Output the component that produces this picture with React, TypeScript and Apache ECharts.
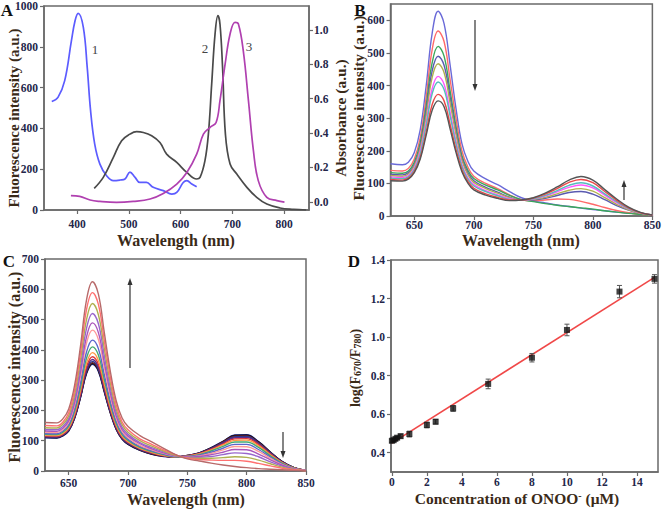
import React, { useEffect, useRef } from "react";
import * as echarts from "echarts";

// ---------- Panel A ----------
const a1Wl = [351, 363, 376, 389, 396, 402, 412, 419.5, 426, 434, 444, 457, 470, 483, 492.5, 502, 512, 521, 534, 547, 566.5, 583, 592.5, 605, 612, 621.5, 631];
const a1Val = [532, 552, 634, 830, 928, 964, 895, 699, 487, 323, 225, 168, 144, 147, 152, 186, 160, 135, 135, 111, 95, 78, 86, 135, 144, 127, 114];
const a2Wl = [433, 450.5, 470, 486, 502, 515, 528, 544, 560, 573, 592.5, 612, 631, 637.5, 647, 653.6, 660, 666.5, 672, 676, 681, 686.5, 695.5, 708.5, 728, 747, 766.5, 792, 818, 842.5];
const a2Val = [106, 160, 258, 340, 372, 384, 380, 364, 331, 274, 233, 184, 152, 160, 242, 372, 618, 863, 953, 912, 699, 372, 225, 176, 111, 62, 29, 10, 3, 0];
const a3Wl = [388, 405, 425, 444, 476, 508.5, 541, 566.5, 592.5, 612, 631, 644, 657, 668.5, 676, 686, 695.5, 705, 711.6, 721, 731, 740.6, 750, 766.5, 786, 800.6];
const a3Val = [70, 67, 49, 42, 37, 42, 54, 81, 127, 184, 274, 372, 405, 429, 536, 716, 863, 920, 912, 781, 536, 291, 144, 62, 46, 39];
const aXTicks = [400, 500, 600, 700, 800];
const aYRightTicks = [0, 0.2, 0.4, 0.6, 0.8, 1.0];

// ---------- Panels B and C (shared wavelength grid) ----------
const W = [630, 640, 645, 650, 655, 660, 665, 670, 675, 680, 685, 690, 695, 700, 710, 720, 730, 740, 750, 760, 770, 780, 790, 800, 810, 820, 830, 840, 850];
const bBlue = [160, 157, 165, 195, 265, 400, 560, 628, 590, 465, 330, 222, 168, 138, 114, 96, 75, 56, 46, 40, 34, 29, 24, 20, 16, 12, 9, 6, 3];
const bSalmon = [140, 138, 146, 175, 240, 365, 510, 567, 535, 420, 300, 200, 150, 122, 100, 84, 65, 50, 47, 49, 52, 51, 45, 36, 26, 17, 10, 5, 2];
const bGreen = [133, 131, 138, 165, 225, 340, 470, 520, 490, 385, 275, 185, 140, 115, 95, 80, 63, 50, 44, 38, 33, 29, 25, 21, 16, 12, 8, 5, 2];
const bSlate = [128, 126, 133, 158, 215, 322, 445, 490, 462, 365, 262, 178, 132, 108, 88, 73, 58, 48, 49, 54, 63, 72, 75, 67, 50, 32, 18, 8, 3];
const bOlive = [124, 122, 129, 153, 208, 308, 425, 467, 440, 348, 250, 170, 127, 103, 84, 70, 56, 48, 51, 57, 68, 79, 84, 76, 56, 36, 19, 8, 3];
const bMagenta = [120, 118, 124, 147, 198, 288, 390, 428, 404, 320, 230, 158, 118, 96, 78, 65, 53, 49, 52, 61, 74, 88, 95, 86, 64, 41, 22, 9, 3];
const bTeal = [116, 114, 120, 142, 190, 278, 375, 411, 388, 308, 222, 152, 113, 92, 75, 62, 51, 49, 53, 63, 78, 94, 102, 92, 68, 44, 23, 10, 3];
const bRed = [112, 110, 116, 137, 180, 258, 342, 373, 353, 282, 205, 142, 106, 85, 68, 57, 49, 49, 55, 67, 84, 103, 112, 102, 75, 48, 25, 10, 3];
const bGray = [108, 107, 113, 133, 175, 248, 324, 353, 335, 268, 195, 136, 101, 80, 64, 54, 47, 49, 56, 70, 89, 110, 121, 110, 81, 52, 27, 11, 3];
const bCurves = [bBlue, bSalmon, bGreen, bSlate, bOlive, bMagenta, bTeal, bRed, bGray];
const bColors = ["#6a6ad8", "#ff6a6a", "#3aa65a", "#5a5ab0", "#b0b050", "#ff55ff", "#55bcbc", "#e84848", "#555555"];

const c0 = [160, 159, 172, 205, 284, 415, 565, 625, 584, 457, 331, 232, 175, 147, 117, 96, 75, 54, 40, 33, 26, 20, 15, 11, 8, 6, 4, 2, 1];
const c1 = [150, 149, 161, 192, 267, 391, 533, 589, 550, 430, 311, 217, 162, 136, 106, 88, 70, 54, 42, 38, 36, 35, 35, 32, 25, 17, 9, 4, 1];
const c2 = [143, 142, 154, 182, 252, 368, 500, 553, 516, 404, 292, 204, 153, 128, 100, 82, 66, 52, 43, 42, 42, 44, 47, 45, 36, 24, 13, 5, 1];
const c3 = [137, 136, 147, 173, 239, 347, 471, 520, 486, 380, 275, 193, 144, 121, 94, 77, 63, 51, 45, 45, 48, 54, 60, 58, 47, 30, 16, 6, 1];
const c4 = [132, 131, 141, 166, 227, 328, 443, 489, 457, 358, 260, 182, 137, 115, 90, 73, 60, 50, 46, 48, 54, 62, 71, 70, 56, 37, 19, 7, 2];
const c5 = [128, 127, 136, 160, 218, 313, 422, 465, 434, 341, 248, 174, 131, 110, 85, 70, 58, 49, 47, 50, 58, 70, 81, 80, 65, 42, 21, 8, 2];
const c6 = [124, 123, 132, 153, 206, 293, 393, 432, 404, 318, 232, 165, 125, 105, 81, 67, 56, 48, 48, 52, 62, 75, 88, 88, 71, 46, 23, 8, 2];
const c7 = [121, 120, 128, 148, 198, 279, 373, 410, 383, 302, 222, 158, 120, 101, 78, 64, 54, 47, 48, 54, 66, 81, 96, 96, 78, 50, 25, 9, 2];
const c8 = [118, 117, 124, 143, 190, 268, 356, 391, 365, 289, 212, 152, 115, 97, 75, 62, 52, 47, 49, 56, 69, 86, 101, 102, 83, 53, 27, 9, 2];
const c9 = [116, 115, 122, 140, 185, 259, 344, 377, 352, 279, 205, 147, 112, 95, 74, 60, 51, 46, 50, 57, 71, 89, 106, 107, 87, 56, 28, 10, 2];
const c10 = [114, 113, 120, 137, 181, 253, 336, 368, 344, 272, 201, 144, 110, 93, 72, 59, 50, 46, 50, 58, 73, 92, 110, 111, 90, 58, 29, 10, 2];
const c11 = [113, 112, 119, 136, 179, 249, 330, 362, 338, 268, 198, 142, 108, 91, 71, 58, 50, 46, 50, 59, 74, 94, 113, 114, 92, 60, 30, 10, 2];
const c12 = [112, 111, 118, 135, 177, 247, 327, 358, 335, 265, 195, 140, 107, 90, 70, 57, 49, 46, 51, 59, 75, 96, 115, 116, 94, 61, 30, 10, 2];
const c13 = [111, 110, 117, 133, 176, 245, 324, 355, 332, 263, 194, 139, 106, 89, 69, 56, 49, 46, 51, 60, 76, 97, 117, 118, 96, 62, 31, 11, 2];
const c14 = [110, 109, 116, 132, 174, 243, 321, 352, 329, 260, 192, 137, 105, 88, 68, 55, 48, 46, 51, 60, 77, 98, 119, 120, 97, 63, 31, 11, 2];
const cCurves = [c14, c13, c12, c11, c10, c9, c8, c7, c6, c5, c4, c3, c2, c1, c0];
const cColors = ["#1a2a9a", "#111111", "#7a1a1a", "#2a3a8a", "#5a2a8a", "#dd3a3a", "#ff9944", "#44aa70", "#5a66cc", "#ff9a9a", "#aa55bb", "#9966cc", "#b0b050", "#ff7070", "#55bcbc"];
const cTopColor = "#b86a6a";
const bcXTicks = [650, 700, 750, 800, 850];
const bYTicks = [0, 100, 200, 300, 400, 500, 600];

// ---------- Panel D ----------
const dConc = [0, 0.1, 0.2, 0.3, 0.5, 1, 2, 2.5, 3.5, 5.5, 8, 10, 13, 15];
const dLog = [0.462, 0.465, 0.472, 0.478, 0.486, 0.497, 0.544, 0.561, 0.630, 0.757, 0.893, 1.037, 1.236, 1.302];
const dErr = [0.008, 0.008, 0.008, 0.008, 0.01, 0.015, 0.015, 0.012, 0.015, 0.025, 0.022, 0.03, 0.032, 0.022];
const dFitX = [0, 15];
const dFitY = [0.45, 1.31];
const dXTicks = [0, 2, 4, 6, 8, 10, 12, 14];
const dYTicks = [0.4, 0.6, 0.8, 1.0, 1.2, 1.4];

const FONT = "Liberation Serif";
const TICK_COLOR = "#23264a";
const TITLE_COLOR = "#3a2a18";
const AXIS_COLOR = "#6a6a6a";

const zip = (xs: number[], ys: number[]) => xs.map((x, i) => [x, ys[i]]);

export default function App() {
  const ref = useRef<HTMLDivElement>(null);
  useEffect(() => {
    if (!ref.current) return;
    const chart = echarts.init(ref.current, null, { renderer: "svg" });
    const label = (extra: any = {}) => ({
      fontFamily: FONT,
      fontWeight: "bold",
      fontSize: 11.5,
      color: TICK_COLOR,
      ...extra,
    });
    const axLine = { show: true, onZero: false, lineStyle: { color: AXIS_COLOR, width: 1.5 } };
    const tick = (cv?: number[]) => ({ show: true, length: 4, lineStyle: { color: AXIS_COLOR, width: 1.2 }, ...(cv ? { customValues: cv } : {}) });
    const noSplit = { show: false };
    const plain = (v: number) => String(v);

    const xAx = (grid: number, min: number, max: number, ticks: number[], margin: number) => ({
      type: "value",
      gridIndex: grid,
      min,
      max,
      axisLine: axLine,
      axisTick: tick(ticks),
      axisLabel: label({ margin, customValues: ticks, formatter: plain }),
      splitLine: noSplit,
    });

    const grids = [
      { left: 44, top: 5, width: 265, height: 205 },
      { left: 390.5, top: 4, width: 263.5, height: 212 },
      { left: 45, top: 259, width: 261, height: 212 },
      { left: 391, top: 260, width: 267, height: 212 },
    ].map((g) => ({ ...g, show: true, borderColor: AXIS_COLOR, borderWidth: 1.5, backgroundColor: "transparent" }));

    const series: any[] = [];
    const aColors = ["#5c5cff", "#4a4a4a", "#b040b0"];
    [zip(a1Wl, a1Val), zip(a2Wl, a2Val), zip(a3Wl, a3Val)].forEach((d, i) => {
      series.push({
        type: "line",
        xAxisIndex: 0,
        yAxisIndex: 0,
        data: d,
        smooth: 0.4,
        symbol: "none",
        lineStyle: { color: aColors[i], width: 1.7 },
      });
    });
    bCurves.forEach((v, i) => {
      series.push({
        type: "line",
        xAxisIndex: 1,
        yAxisIndex: 2,
        data: zip(W, v),
        smooth: 0.4,
        symbol: "none",
        lineStyle: { color: bColors[i], width: 1.4 },
      });
    });
    cCurves.forEach((v, i) => {
      series.push({
        type: "line",
        xAxisIndex: 2,
        yAxisIndex: 3,
        data: zip(W, v),
        smooth: 0.4,
        symbol: "none",
        lineStyle: { color: i === cCurves.length - 1 ? cTopColor : cColors[i], width: 1.4 },
      });
    });
    series.push({
      type: "line",
      xAxisIndex: 3,
      yAxisIndex: 4,
      data: zip(dFitX, dFitY),
      symbol: "none",
      lineStyle: { color: "#f04848", width: 1.6 },
      z: 2,
    });
    series.push({
      type: "custom",
      xAxisIndex: 3,
      yAxisIndex: 4,
      data: dConc.map((x, i) => [x, dLog[i] - dErr[i], dLog[i] + dErr[i]]),
      renderItem: (_p: any, api: any) => {
        const x = api.value(0);
        const lo = api.coord([x, api.value(1)]);
        const hi = api.coord([x, api.value(2)]);
        const w = 2.5;
        const st = { stroke: "#555", lineWidth: 1 };
        return {
          type: "group",
          children: [
            { type: "line", shape: { x1: lo[0], y1: lo[1], x2: hi[0], y2: hi[1] }, style: st },
            { type: "line", shape: { x1: lo[0] - w, y1: lo[1], x2: lo[0] + w, y2: lo[1] }, style: st },
            { type: "line", shape: { x1: hi[0] - w, y1: hi[1], x2: hi[0] + w, y2: hi[1] }, style: st },
          ],
        };
      },
      z: 3,
    });
    series.push({
      type: "scatter",
      xAxisIndex: 3,
      yAxisIndex: 4,
      data: zip(dConc, dLog),
      symbol: "rect",
      symbolSize: 6,
      itemStyle: { color: "#111" },
      z: 4,
    });

    const title = (text: string, x: number, y: number, size: number, rot = false, extra: any = {}) => ({
      type: "text",
      x,
      y,
      rotation: rot ? Math.PI / 2 : 0,
      style: {
        text,
        fontFamily: FONT,
        fontWeight: "bold",
        fontSize: size,
        fill: TITLE_COLOR,
        align: "center",
        verticalAlign: "middle",
        ...extra,
      },
    });
    const arrow = (x: number, y1: number, y2: number) => {
      const dir = y2 > y1 ? 1 : -1;
      return {
        type: "group",
        children: [
          { type: "line", shape: { x1: x, y1, x2: x, y2: y2 - dir * 5 }, style: { stroke: "#333", lineWidth: 1.2 } },
          { type: "polygon", shape: { points: [[x - 2.5, y2 - dir * 7], [x + 2.5, y2 - dir * 7], [x, y2]] }, style: { fill: "#333" } },
        ],
      };
    };
    const letter = (t: string, x: number, y: number) => ({
      type: "text",
      x,
      y,
      style: { text: t, fontFamily: FONT, fontWeight: "bold", fontSize: 17, fill: "#111", align: "center", verticalAlign: "middle" },
    });
    const curveLabel = (t: string, x: number, y: number) => ({
      type: "text",
      x,
      y,
      style: { text: t, fontFamily: FONT, fontSize: 13, fill: "#444", align: "center", verticalAlign: "middle" },
    });

    const graphic = [
      letter("A", 7, 10),
      letter("B", 360, 10),
      letter("C", 9, 261),
      letter("D", 354, 261),
      title("Fluorescence intensity (a.u.)", 14, 118, 15, true),
      title("Absorbance (a.u.)", 340, 118, 15.5, true),
      title("Fluorescence intensity (a.u.)", 358, 108, 15.5, true),
      title("Wavelength (nm)", 176, 240, 16),
      title("Wavelength (nm)", 521, 240, 16),
      title("Fluorescence intensity (a.u.)", 14, 367, 16, true),
      title("Wavelength (nm)", 186, 499, 16),
      title("log(F{s|670}/F{s|780})", 355, 368, 14, true, {
        rich: { s: { fontFamily: FONT, fontWeight: "bold", fontSize: 10, fill: TITLE_COLOR, verticalAlign: "bottom", padding: [4, 0, 0, 0] } },
      }),
      title("Concentration of ONOO{u|-} (μM)", 517, 498, 15.5, false, {
        rich: { u: { fontFamily: FONT, fontWeight: "bold", fontSize: 10, fill: TITLE_COLOR, verticalAlign: "top", padding: [0, 0, 6, 0] } },
      }),
      curveLabel("1", 95, 49),
      curveLabel("2", 205, 48),
      curveLabel("3", 249, 46),
      arrow(475, 20, 91),
      arrow(624, 200, 180),
      arrow(130, 368, 278),
      arrow(283, 432, 458),
    ];

    chart.setOption({
      animation: false,
      backgroundColor: "#ffffff",
      grid: grids,
      xAxis: [
        xAx(0, 336, 848, aXTicks, 8),
        xAx(1, 630, 850, bcXTicks, 3),
        xAx(2, 630, 850, bcXTicks, 6),
        xAx(3, -0.05, 15.2, dXTicks, 4),
      ],
      yAxis: [
        { type: "value", gridIndex: 0, min: 0, max: 1000, interval: 200, axisLine: axLine, axisTick: tick(), axisLabel: label({ margin: 6, formatter: plain }), splitLine: noSplit },
        {
          type: "value",
          gridIndex: 0,
          position: "right",
          min: -0.048,
          max: 1.14,
          axisLine: axLine,
          axisTick: tick(aYRightTicks),
          axisLabel: label({ margin: 5, customValues: aYRightTicks, formatter: (v: number) => v.toFixed(1) }),
          splitLine: noSplit,
        },
        { type: "value", gridIndex: 1, min: 0, max: 650, axisLine: axLine, axisTick: tick(bYTicks), axisLabel: label({ margin: 6, customValues: bYTicks, formatter: plain }), splitLine: noSplit },
        { type: "value", gridIndex: 2, min: 0, max: 700, interval: 100, axisLine: axLine, axisTick: tick(), axisLabel: label({ margin: 6, formatter: plain }), splitLine: noSplit },
        {
          type: "value",
          gridIndex: 3,
          min: 0.3,
          max: 1.4,
          axisLine: axLine,
          axisTick: tick(dYTicks),
          axisLabel: label({ margin: 6, customValues: dYTicks, formatter: (v: number) => v.toFixed(1) }),
          splitLine: noSplit,
        },
      ],
      series,
      graphic,
    });
    return () => chart.dispose();
  }, []);
  return <div ref={ref} style={{ position: "absolute", left: 0, top: 0, width: 664, height: 511 }} />;
}
